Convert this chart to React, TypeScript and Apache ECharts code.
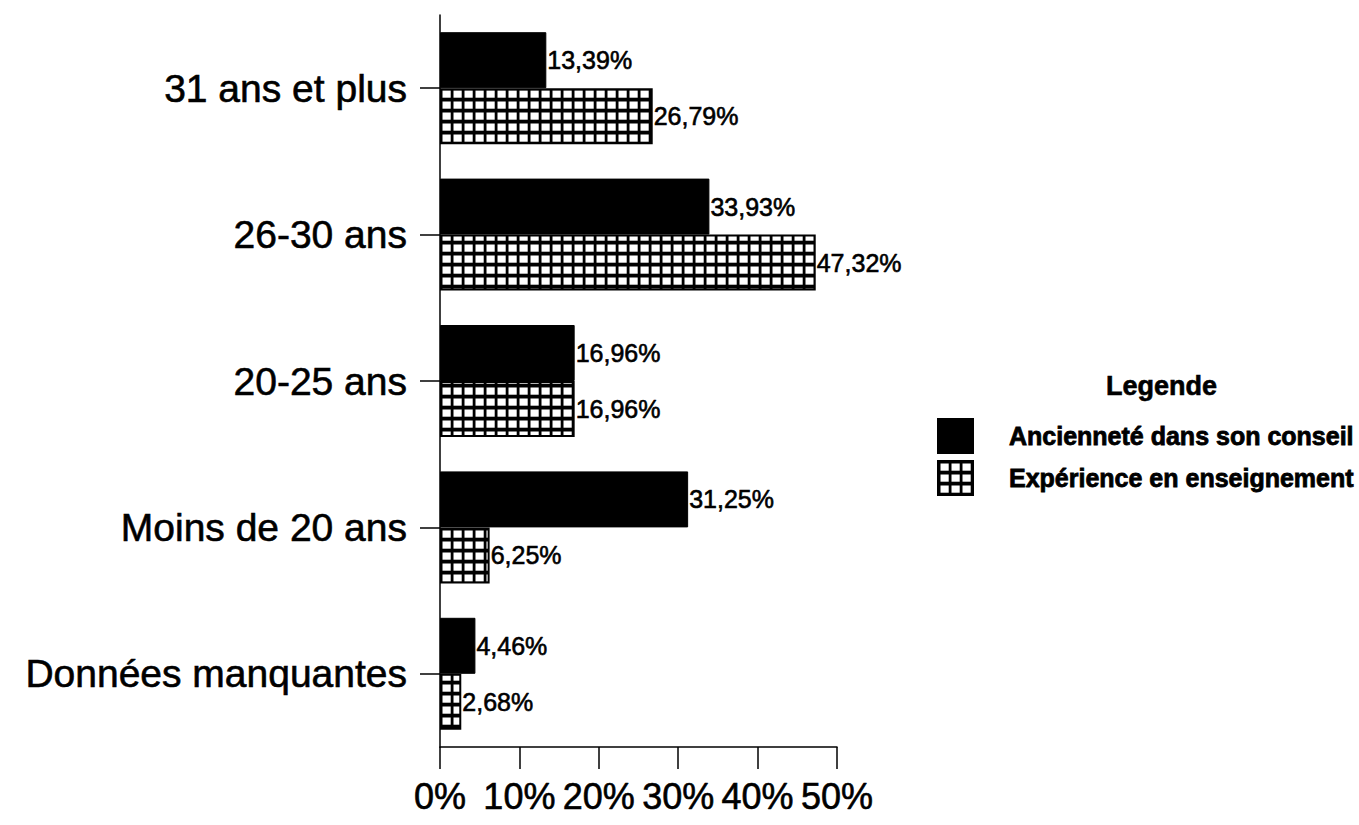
import React, { useEffect, useRef } from "react";
import * as echarts from "echarts";

const categories = ["Données manquantes", "Moins de 20 ans", "20-25 ans", "26-30 ans", "31 ans et plus"];
const seriesNames = ["Ancienneté dans son conseil", "Expérience en enseignement"];
const ancienneteValues = [4.46, 31.25, 16.96, 33.93, 13.39];
const experienceValues = [2.68, 6.25, 16.96, 47.32, 26.79];
const xMin = 0;
const xMax = 50;
const xInterval = 10;

const FONT = "'Liberation Sans', Arial, Helvetica, sans-serif";

const hatchSvg =
  "<svg xmlns='http://www.w3.org/2000/svg' width='11' height='11'>" +
  "<rect width='11' height='11' fill='#000'/>" +
  "<rect x='2.5' y='2.5' width='8.2' height='7.2' fill='#fff'/></svg>";
const hatchUrl = "data:image/svg+xml;charset=utf-8," + encodeURIComponent(hatchSvg);

const fmt = (v: number) => v.toFixed(2).replace(".", ",") + "%";

export default function App() {
  const ref = useRef<HTMLDivElement>(null);
  useEffect(() => {
    document.body.style.margin = "0";
    if (!ref.current) return;
    const chart = echarts.init(ref.current, undefined, { renderer: "svg" });
    const hatch: any = { image: hatchUrl, repeat: "repeat", imageWidth: 11, imageHeight: 11 };
    const labelStyle = {
      show: true,
      position: "right",
      distance: 1,
      color: "#000",
      fontSize: 25,
      fontFamily: FONT,
      textBorderColor: "#000",
      textBorderWidth: 0.6,
      formatter: (p: any) => fmt(p.value),
    };
    chart.setOption({
      animation: false,
      backgroundColor: "#fff",
      title: {
        text: "Legende",
        left: 1101,
        top: 367,
        textStyle: {
          fontSize: 27,
          fontWeight: "bold",
          color: "#000",
          fontFamily: FONT,
          textBorderColor: "#000",
          textBorderWidth: 0.6,
        },
      },
      legend: {
        data: seriesNames,
        orient: "vertical",
        left: 932,
        top: 413,
        itemWidth: 35,
        itemHeight: 34,
        itemGap: 6,
        icon: "rect",
        textStyle: {
          fontSize: 25,
          fontWeight: "bold",
          color: "#000",
          fontFamily: FONT,
          textBorderColor: "#000",
          textBorderWidth: 0.8,
          padding: [0, 0, 0, 31],
        },
      },
      grid: { left: 440, right: 522, top: 15, bottom: 78, containLabel: false },
      xAxis: {
        type: "value",
        min: xMin,
        max: xMax,
        interval: xInterval,
        splitLine: { show: false },
        axisLine: { show: true, lineStyle: { color: "#000", width: 1.5 } },
        axisTick: { show: true, length: 22, lineStyle: { color: "#000", width: 1.5 } },
        axisLabel: {
          formatter: "{value}%",
          color: "#000",
          fontSize: 36,
          fontFamily: FONT,
          margin: 31,
          textBorderColor: "#000",
          textBorderWidth: 0.6,
        },
      },
      yAxis: {
        type: "category",
        data: categories,
        axisLine: { show: true, lineStyle: { color: "#000", width: 1.5 } },
        axisTick: { show: true, alignWithLabel: true, length: 20, lineStyle: { color: "#000", width: 1.5 } },
        axisLabel: {
          color: "#000",
          fontSize: 39,
          fontFamily: FONT,
          margin: 33,
          textBorderColor: "#000",
          textBorderWidth: 0.6,
        },
      },
      series: [
        {
          name: seriesNames[0],
          type: "bar",
          data: ancienneteValues,
          barWidth: 56,
          barGap: "0%",
          itemStyle: { color: "#000", borderColor: "#000", borderWidth: 1 },
          label: labelStyle,
        },
        {
          name: seriesNames[1],
          type: "bar",
          data: experienceValues,
          barWidth: 56,
          barGap: "0%",
          itemStyle: { color: hatch, borderColor: "#000", borderWidth: 2 },
          label: labelStyle,
        },
      ],
    });
    return () => chart.dispose();
  }, []);
  return <div ref={ref} style={{ width: 1359, height: 825 }} />;
}
